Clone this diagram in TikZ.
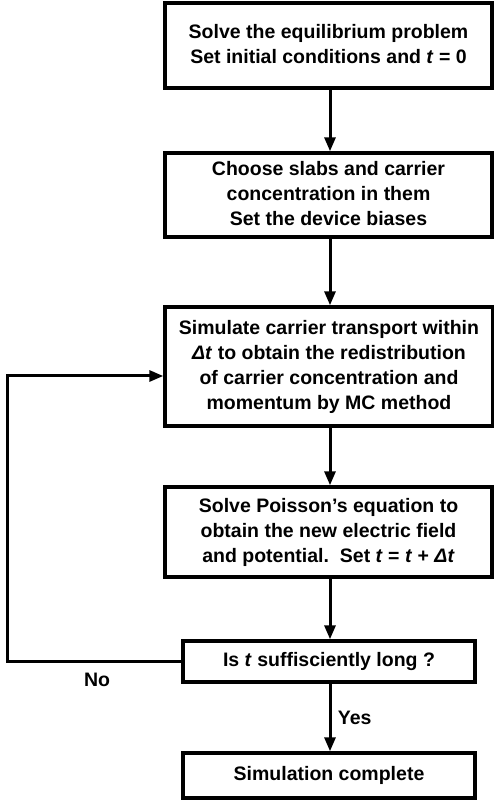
\documentclass[tikz,border=0pt]{standalone}
\usepackage{fontspec}
\setmainfont{Liberation Sans}
\usetikzlibrary{arrows.meta}
\tikzset{
  stepbox/.style={draw, line width=3.4pt, rectangle, align=center, font=\fontsize{19.5}{25}\selectfont\bfseries, inner sep=0pt, text depth=4pt},
  conn/.style={line width=3pt, -{Triangle[length=14pt,width=11pt]}},
  lbl/.style={font=\fontsize{19.5}{24}\selectfont\bfseries}
}
\newcommand{\tv}{\textit{t}}
\newcommand{\dt}{\textit{Δt}}
\begin{document}
\begin{tikzpicture}[x=1pt,y=1pt]
\useasboundingbox (0,0) rectangle (494,800);
\node[stepbox, minimum width=327pt, minimum height=85pt] (b1) at (328.5,754.5)
  {Solve the equilibrium problem\\Set initial conditions and \tv{} = 0};
\node[stepbox, minimum width=327pt, minimum height=84pt] (b2) at (328.5,605)
  {Choose slabs and carrier\\concentration in them\\Set the device biases};
\node[stepbox, minimum width=328pt, minimum height=119pt] (b3) at (329,433.5)
  {Simulate carrier transport within\\\dt{} to obtain the redistribution\\of carrier concentration and\\momentum by MC method};
\node[stepbox, minimum width=327pt, minimum height=90pt] (b4) at (328.5,268)
  {Solve Poisson's equation to\\obtain the new electric field\\and potential.\ \ Set \tv{} = \tv{} + \dt{}};
\node[stepbox, minimum width=292pt, minimum height=41pt] (b5) at (329,138.5)
  {Is \tv{} suffisciently long ?};
\node[stepbox, minimum width=292pt, minimum height=45pt] (b6) at (329,24.5)
  {Simulation complete};
\coordinate (loopL) at (7,424);
\coordinate (in3) at (b3.west |- loopL);
\draw[conn] (b1.south -| 330,0) -- (b2.north -| 330,0);
\draw[conn] (b2.south -| 330,0) -- (b3.north -| 330,0);
\draw[conn] (b3.south -| 330,0) -- (b4.north -| 330,0);
\draw[conn] (b4.south -| 330,0) -- (b5.north -| 330,0);
\draw[conn] (b5.south -| 330,0) -- node[lbl, right=3pt, pos=0.5] (yes) {Yes} (b6.north -| 330,0);
\draw[conn] (b5.west) -| (loopL) -- (in3);
\node[lbl] (no) at (97,120) {No};
\end{tikzpicture}
\end{document}
